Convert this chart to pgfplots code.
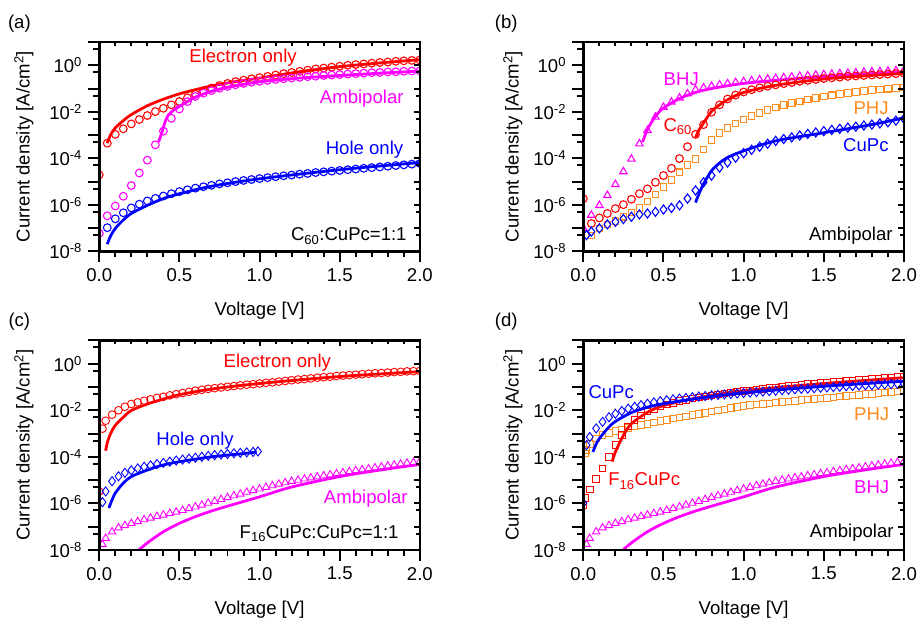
\documentclass[border=0pt]{standalone}
\usepackage{fontspec}
\setmainfont{Liberation Sans}
\usepackage{pgfplots}
\pgfplotsset{compat=1.18}

\definecolor{colR}{RGB}{255,0,0}
\definecolor{colM}{RGB}{255,0,255}
\definecolor{colB}{RGB}{0,0,255}
\definecolor{colO}{RGB}{255,140,30}

\pgfplotsset{
  panel/.style={scale only axis, width=323pt, height=211pt,
    xmin=0, xmax=2, ymin=-8, ymax=1,
    axis line style={line width=2.6pt}, clip marker paths=true,
    xtick={0,0.5,1,1.5,2}, minor x tick num=4,
    ytick={-8,-7,-6,-5,-4,-3,-2,-1,0,1},
    minor ytick={-7.301,-6.301,-5.301,-4.301,-3.301,-2.301,-1.301,-0.301,0.699},
    tick style={black, line width=2pt}},
  mainax/.style={panel, tick align=outside, xtick pos=left, ytick pos=left,
    major tick length=11pt, minor tick length=6pt,
    xticklabels={0.0,0.5,1.0,1.5,2.0},
    yticklabels={10\textsuperscript{-8},,10\textsuperscript{-6},,10\textsuperscript{-4},,10\textsuperscript{-2},,10\textsuperscript{0},},
    xlabel={Voltage [V]}, ylabel={Current density [A/cm\textsuperscript{2}]},
    xlabel style={at={(axis description cs:0.5,-0.284)}, anchor=center}},
  mirax/.style={panel, tick align=inside, xtick pos=right, ytick pos=right,
    major tick length=6pt, minor tick length=4pt,
    xticklabels={}, yticklabels={}},
  circ/.style={only marks, mark=o, mark size=3.9pt, mark options={line width=1.1pt}},
  tri/.style={only marks, mark=triangle, mark size=4.3pt, mark options={line width=1.1pt}},
  sq/.style={only marks, mark=square, mark size=3.3pt, mark options={line width=1.1pt}},
  dia/.style={only marks, mark=diamond, mark size=4.6pt, mark options={line width=1.1pt}},
  fit/.style={no marks, smooth, line width=2.8pt},
}

\begin{document}
\fontsize{18.7}{22}\selectfont
\begin{tikzpicture}
\path (0,0) rectangle (923pt,624pt);

\node at (19.5pt,600pt) {(a)};
\node at (510pt,600pt) {(b)};
\node at (19.5pt,299.8pt) {(c)};
\node at (510pt,299.8pt) {(d)};

% ---------------- (a)
\begin{axis}[mainax, at={(100pt,370.7pt)}, anchor=south west,
  ylabel style={at={(axis description cs:-0.235,0.5)}, anchor=center}]
\addplot[circ, colR] table {
0.00 -4.71
0.05 -3.35
0.10 -2.97
0.15 -2.73
0.20 -2.52
0.25 -2.33
0.30 -2.16
0.35 -1.99
0.40 -1.85
0.45 -1.70
0.50 -1.56
0.55 -1.40
0.60 -1.24
0.65 -1.10
0.70 -0.98
0.75 -0.87
0.80 -0.78
0.85 -0.70
0.90 -0.64
0.95 -0.58
1.00 -0.53
1.05 -0.48
1.10 -0.42
1.15 -0.36
1.20 -0.31
1.25 -0.26
1.30 -0.21
1.35 -0.16
1.40 -0.12
1.45 -0.08
1.50 -0.04
1.55 0.00
1.60 0.03
1.65 0.06
1.70 0.09
1.75 0.12
1.80 0.14
1.85 0.17
1.90 0.19
1.95 0.21
2.00 0.23
};
\addplot[fit, colR] table {
0.05 -3.35
0.07 -3.00
0.10 -2.69
0.15 -2.38
0.20 -2.12
0.30 -1.74
0.40 -1.46
0.50 -1.23
0.60 -1.05
0.70 -0.89
0.85 -0.70
1.00 -0.55
1.25 -0.28
1.50 -0.06
1.75 0.10
2.00 0.24
};
\addplot[circ, colM] table {
0.00 -7.22
0.05 -6.47
0.10 -6.05
0.15 -5.63
0.20 -5.17
0.25 -4.63
0.30 -4.08
0.35 -3.42
0.40 -2.83
0.45 -2.28
0.50 -1.88
0.55 -1.56
0.60 -1.34
0.65 -1.20
0.70 -1.09
0.75 -0.99
0.80 -0.91
0.85 -0.84
0.90 -0.78
0.95 -0.73
1.00 -0.69
1.05 -0.65
1.10 -0.61
1.15 -0.58
1.20 -0.55
1.25 -0.52
1.30 -0.49
1.35 -0.47
1.40 -0.44
1.45 -0.42
1.50 -0.40
1.55 -0.38
1.60 -0.36
1.65 -0.34
1.70 -0.32
1.75 -0.31
1.80 -0.29
1.85 -0.28
1.90 -0.26
1.95 -0.25
2.00 -0.24
};
\addplot[fit, colM] table {
0.37 -3.30
0.39 -2.90
0.41 -2.45
0.43 -2.15
0.46 -1.95
0.50 -1.77
0.60 -1.37
0.70 -1.12
0.80 -0.95
1.00 -0.71
1.25 -0.55
1.50 -0.44
1.75 -0.34
2.00 -0.25
};
\addplot[circ, colB] table {
0.05 -6.98
0.10 -6.60
0.15 -6.34
0.20 -6.13
0.25 -5.97
0.30 -5.83
0.35 -5.72
0.40 -5.62
0.45 -5.52
0.50 -5.43
0.55 -5.35
0.60 -5.28
0.65 -5.22
0.70 -5.16
0.75 -5.10
0.80 -5.05
0.85 -5.00
0.90 -4.95
0.95 -4.91
1.00 -4.87
1.05 -4.83
1.10 -4.79
1.15 -4.75
1.20 -4.72
1.25 -4.68
1.30 -4.65
1.35 -4.61
1.40 -4.58
1.45 -4.55
1.50 -4.52
1.55 -4.49
1.60 -4.46
1.65 -4.43
1.70 -4.40
1.75 -4.37
1.80 -4.34
1.85 -4.31
1.90 -4.28
1.95 -4.25
2.00 -4.22
};
\addplot[fit, colB] table {
0.05 -7.69
0.07 -7.35
0.10 -7.01
0.15 -6.65
0.20 -6.37
0.30 -6.02
0.40 -5.73
0.50 -5.52
0.70 -5.20
1.00 -4.88
1.50 -4.49
2.00 -4.18
};
\node[colR, anchor=base] at (axis cs:0.897,0.12) {Electron only};
\node[colM, anchor=base east] at (axis cs:1.938,-1.655) {Ambipolar};
\node[colB, anchor=base east] at (axis cs:1.936,-3.82) {Hole only};
\node[anchor=base east] at (axis cs:1.957,-7.55) {C\textsubscript{60}:CuPc=1:1};
\end{axis}
\begin{axis}[mirax, at={(100pt,370.7pt)}, anchor=south west]
\end{axis}

% ---------------- (b)
\begin{axis}[mainax, at={(587.7pt,370.7pt)}, anchor=south west,
  ylabel style={at={(axis description cs:-0.22,0.5)}, anchor=center}]
\addplot[tri, colM] table {
0.00 -7.00
0.05 -6.44
0.10 -6.02
0.15 -5.59
0.20 -5.12
0.25 -4.57
0.30 -4.03
0.35 -3.37
0.40 -2.80
0.45 -2.22
0.50 -1.80
0.55 -1.58
0.60 -1.40
0.65 -1.22
0.70 -1.05
0.75 -0.97
0.80 -0.90
0.85 -0.84
0.90 -0.79
0.95 -0.74
1.00 -0.70
1.05 -0.66
1.10 -0.62
1.15 -0.59
1.20 -0.56
1.25 -0.53
1.30 -0.50
1.35 -0.47
1.40 -0.45
1.45 -0.42
1.50 -0.40
1.55 -0.38
1.60 -0.36
1.65 -0.34
1.70 -0.32
1.75 -0.30
1.80 -0.28
1.85 -0.27
1.90 -0.25
1.95 -0.23
2.00 -0.22
};
\addplot[fit, colM] table {
0.37 -3.30
0.40 -2.76
0.45 -2.19
0.50 -1.84
0.60 -1.43
0.70 -1.17
0.80 -1.00
1.00 -0.78
1.25 -0.62
1.50 -0.49
1.75 -0.38
2.00 -0.28
};
\addplot[circ, colR] table {
0.00 -5.73
0.05 -6.80
0.10 -6.56
0.15 -6.37
0.20 -6.16
0.25 -5.99
0.30 -5.76
0.35 -5.52
0.40 -5.31
0.45 -5.03
0.50 -4.74
0.55 -4.43
0.60 -4.01
0.65 -3.50
0.70 -2.97
0.75 -2.55
0.80 -2.02
0.85 -1.70
0.90 -1.45
0.95 -1.28
1.00 -1.15
1.05 -1.05
1.10 -0.97
1.15 -0.90
1.20 -0.84
1.25 -0.79
1.30 -0.74
1.35 -0.69
1.40 -0.65
1.45 -0.61
1.50 -0.57
1.55 -0.54
1.60 -0.51
1.65 -0.48
1.70 -0.46
1.75 -0.44
1.80 -0.42
1.85 -0.40
1.90 -0.38
1.95 -0.36
2.00 -0.34
};
\addplot[fit, colR] table {
0.70 -3.11
0.72 -2.80
0.75 -2.48
0.80 -1.98
0.85 -1.70
0.90 -1.48
1.00 -1.17
1.20 -0.86
1.50 -0.59
1.75 -0.46
2.00 -0.35
};
\addplot[sq, colO] table {
0.05 -7.32
0.10 -7.01
0.15 -6.84
0.20 -6.70
0.25 -6.51
0.30 -6.33
0.35 -6.13
0.40 -5.85
0.45 -5.56
0.50 -5.24
0.55 -4.93
0.60 -4.60
0.65 -4.29
0.70 -4.03
0.75 -3.62
0.80 -3.22
0.85 -2.92
0.90 -2.69
0.95 -2.50
1.00 -2.33
1.05 -2.18
1.10 -2.05
1.15 -1.92
1.20 -1.81
1.25 -1.71
1.30 -1.62
1.35 -1.55
1.40 -1.47
1.45 -1.41
1.50 -1.35
1.55 -1.29
1.60 -1.24
1.65 -1.19
1.70 -1.15
1.75 -1.11
1.80 -1.07
1.85 -1.04
1.90 -1.01
1.95 -0.98
2.00 -0.95
};
\addplot[dia, colB] table {
0.02 -7.30
0.05 -7.15
0.10 -7.01
0.15 -6.84
0.20 -6.73
0.25 -6.61
0.30 -6.51
0.35 -6.41
0.40 -6.37
0.45 -6.30
0.50 -6.20
0.55 -6.13
0.60 -6.02
0.65 -5.73
0.70 -5.38
0.75 -5.03
0.80 -4.74
0.85 -4.40
0.90 -4.18
0.95 -3.97
1.00 -3.78
1.05 -3.63
1.10 -3.50
1.15 -3.37
1.20 -3.25
1.25 -3.17
1.30 -3.10
1.35 -3.02
1.40 -2.95
1.45 -2.89
1.50 -2.83
1.55 -2.78
1.60 -2.73
1.65 -2.68
1.70 -2.64
1.75 -2.59
1.80 -2.55
1.85 -2.50
1.90 -2.45
1.95 -2.38
2.00 -2.30
};
\addplot[fit, colB] table {
0.70 -5.90
0.72 -5.55
0.75 -5.10
0.80 -4.53
0.85 -4.20
0.90 -3.96
1.00 -3.68
1.20 -3.25
1.50 -2.90
1.80 -2.55
2.00 -2.26
};
\node[colM, anchor=base] at (axis cs:0.611,-0.85) {BHJ};
\node[colR, anchor=base west, inner sep=0pt] at (axis cs:0.499,-2.83) {C\textsubscript{60}};
\node[colO, anchor=base east] at (axis cs:1.944,-2.12) {PHJ};
\node[colB, anchor=base east] at (axis cs:1.944,-3.69) {CuPc};
\node[anchor=base east] at (axis cs:1.969,-7.55) {Ambipolar};
\end{axis}
\begin{axis}[mirax, at={(587.7pt,370.7pt)}, anchor=south west]
\end{axis}

% ---------------- (c)
\begin{axis}[mainax, at={(100pt,70pt)}, anchor=south west,
  ylabel style={at={(axis description cs:-0.235,0.5)}, anchor=center}]
\addplot[circ, colR, mark options={line width=0.9pt}] table {
0.00 -5.49
0.02 -2.79
0.04 -2.45
0.08 -2.19
0.12 -2.00
0.16 -1.85
0.20 -1.73
0.24 -1.66
0.28 -1.59
0.32 -1.53
0.36 -1.47
0.40 -1.42
0.44 -1.36
0.48 -1.31
0.52 -1.26
0.56 -1.21
0.60 -1.16
0.64 -1.12
0.68 -1.08
0.72 -1.05
0.76 -1.02
0.80 -0.99
0.84 -0.96
0.88 -0.93
0.92 -0.90
0.96 -0.88
1.00 -0.85
1.04 -0.82
1.08 -0.80
1.12 -0.77
1.16 -0.74
1.20 -0.71
1.24 -0.68
1.28 -0.66
1.32 -0.63
1.36 -0.60
1.40 -0.58
1.44 -0.56
1.48 -0.53
1.52 -0.51
1.56 -0.49
1.60 -0.47
1.64 -0.45
1.68 -0.43
1.72 -0.41
1.76 -0.40
1.80 -0.38
1.84 -0.36
1.88 -0.35
1.92 -0.33
1.96 -0.32
2.00 -0.31
};
\addplot[fit, colR] table {
0.04 -3.74
0.05 -3.40
0.07 -3.01
0.10 -2.65
0.15 -2.30
0.20 -2.01
0.30 -1.73
0.40 -1.52
0.50 -1.33
0.70 -1.09
1.00 -0.85
1.50 -0.55
2.00 -0.34
};
\addplot[dia, colB, mark options={line width=0.9pt}] table {
0.02 -5.95
0.04 -5.49
0.08 -5.05
0.12 -4.84
0.16 -4.69
0.20 -4.58
0.24 -4.50
0.28 -4.43
0.32 -4.37
0.36 -4.31
0.40 -4.26
0.44 -4.21
0.48 -4.16
0.52 -4.12
0.56 -4.08
0.60 -4.04
0.64 -4.00
0.68 -3.96
0.72 -3.93
0.76 -3.90
0.80 -3.88
0.84 -3.85
0.88 -3.83
0.92 -3.81
0.96 -3.79
0.99 -3.77
};
\addplot[fit, colB] table {
0.06 -6.20
0.08 -5.85
0.10 -5.56
0.15 -5.13
0.20 -4.85
0.30 -4.57
0.40 -4.35
0.50 -4.21
0.70 -4.00
0.90 -3.86
0.98 -3.80
};
\addplot[tri, colM, mark options={line width=0.9pt}] table {
0.02 -7.76
0.04 -7.50
0.08 -7.22
0.12 -7.05
0.16 -6.95
0.20 -6.86
0.24 -6.78
0.28 -6.70
0.32 -6.63
0.36 -6.56
0.40 -6.50
0.44 -6.43
0.48 -6.37
0.52 -6.30
0.56 -6.22
0.60 -6.15
0.64 -6.07
0.68 -5.99
0.72 -5.91
0.76 -5.83
0.80 -5.75
0.84 -5.67
0.88 -5.60
0.92 -5.52
0.96 -5.45
1.00 -5.38
1.04 -5.31
1.08 -5.24
1.12 -5.17
1.16 -5.11
1.20 -5.05
1.24 -5.00
1.28 -4.95
1.32 -4.90
1.36 -4.86
1.40 -4.81
1.44 -4.77
1.48 -4.72
1.52 -4.68
1.56 -4.63
1.60 -4.59
1.64 -4.55
1.68 -4.51
1.72 -4.47
1.76 -4.43
1.80 -4.39
1.84 -4.35
1.88 -4.31
1.92 -4.27
1.96 -4.24
2.00 -4.20
};
\addplot[fit, colM] table {
0.24 -8.05
0.30 -7.70
0.40 -7.22
0.50 -6.86
0.60 -6.57
0.70 -6.33
0.80 -6.12
1.00 -5.72
1.20 -5.30
1.50 -4.85
1.80 -4.52
2.00 -4.33
};
\node[colR, anchor=base] at (axis cs:1.111,-0.17) {Electron only};
\node[colB, anchor=base] at (axis cs:0.598,-3.50) {Hole only};
\node[colM, anchor=base east] at (axis cs:1.963,-5.99) {Ambipolar};
\node[anchor=base east] at (axis cs:1.907,-7.49) {F\textsubscript{16}CuPc:CuPc=1:1};
\end{axis}
\begin{axis}[mirax, at={(100pt,70pt)}, anchor=south west]
\end{axis}

% ---------------- (d)
\begin{axis}[mainax, at={(587.7pt,70pt)}, anchor=south west,
  ylabel style={at={(axis description cs:-0.22,0.5)}, anchor=center}]
\addplot[tri, colM, mark options={line width=0.9pt}] table {
0.02 -7.76
0.04 -7.50
0.08 -7.22
0.12 -7.05
0.16 -6.95
0.20 -6.86
0.24 -6.78
0.28 -6.70
0.32 -6.63
0.36 -6.56
0.40 -6.50
0.44 -6.43
0.48 -6.37
0.52 -6.30
0.56 -6.22
0.60 -6.15
0.64 -6.07
0.68 -5.99
0.72 -5.91
0.76 -5.83
0.80 -5.75
0.84 -5.67
0.88 -5.60
0.92 -5.52
0.96 -5.45
1.00 -5.38
1.04 -5.31
1.08 -5.24
1.12 -5.17
1.16 -5.11
1.20 -5.05
1.24 -5.00
1.28 -4.95
1.32 -4.90
1.36 -4.86
1.40 -4.81
1.44 -4.77
1.48 -4.72
1.52 -4.68
1.56 -4.63
1.60 -4.59
1.64 -4.55
1.68 -4.51
1.72 -4.47
1.76 -4.43
1.80 -4.39
1.84 -4.35
1.88 -4.31
1.92 -4.27
1.96 -4.24
2.00 -4.20
};
\addplot[fit, colM] table {
0.24 -8.05
0.30 -7.70
0.40 -7.22
0.50 -6.86
0.60 -6.57
0.70 -6.33
0.80 -6.12
1.00 -5.72
1.20 -5.30
1.50 -4.85
1.80 -4.52
2.00 -4.33
};
\addplot[sq, colO, mark options={line width=0.9pt}] table {
0.01 -3.86
0.02 -3.70
0.04 -3.45
0.08 -3.22
0.12 -3.07
0.16 -2.97
0.20 -2.89
0.24 -2.82
0.28 -2.76
0.32 -2.70
0.36 -2.64
0.40 -2.58
0.44 -2.53
0.48 -2.47
0.52 -2.41
0.56 -2.36
0.60 -2.31
0.64 -2.26
0.68 -2.21
0.72 -2.16
0.76 -2.11
0.80 -2.06
0.84 -2.01
0.88 -1.96
0.92 -1.91
0.96 -1.86
1.00 -1.81
1.04 -1.78
1.08 -1.75
1.12 -1.72
1.16 -1.70
1.20 -1.67
1.24 -1.64
1.28 -1.62
1.32 -1.59
1.36 -1.56
1.40 -1.54
1.44 -1.51
1.48 -1.49
1.52 -1.46
1.56 -1.44
1.60 -1.41
1.64 -1.39
1.68 -1.36
1.72 -1.34
1.76 -1.31
1.80 -1.29
1.84 -1.26
1.88 -1.24
1.92 -1.21
1.96 -1.19
2.00 -1.16
};
\addplot[sq, colR, mark options={line width=0.9pt}] table {
0.00 -6.10
0.01 -5.77
0.04 -5.40
0.08 -4.95
0.12 -4.50
0.16 -4.00
0.20 -3.50
0.24 -3.05
0.28 -2.70
0.32 -2.42
0.36 -2.22
0.40 -2.06
0.44 -1.94
0.48 -1.84
0.52 -1.75
0.56 -1.68
0.60 -1.61
0.64 -1.55
0.68 -1.50
0.72 -1.45
0.76 -1.40
0.80 -1.36
0.84 -1.32
0.88 -1.28
0.92 -1.24
0.96 -1.20
1.00 -1.17
1.04 -1.14
1.08 -1.11
1.12 -1.08
1.16 -1.05
1.20 -1.02
1.24 -0.99
1.28 -0.96
1.32 -0.94
1.36 -0.91
1.40 -0.88
1.44 -0.86
1.48 -0.83
1.52 -0.81
1.56 -0.79
1.60 -0.76
1.64 -0.74
1.68 -0.72
1.72 -0.70
1.76 -0.68
1.80 -0.66
1.84 -0.64
1.88 -0.62
1.92 -0.60
1.96 -0.58
2.00 -0.56
};
\addplot[fit, colR] table {
0.18 -4.21
0.20 -3.79
0.25 -3.08
0.30 -2.58
0.40 -2.09
0.50 -1.80
0.70 -1.48
1.00 -1.16
1.50 -0.85
2.00 -0.60
};
\addplot[dia, colB, mark options={line width=0.9pt}] table {
0.00 -5.99
0.02 -3.50
0.04 -3.15
0.08 -2.78
0.12 -2.50
0.16 -2.30
0.20 -2.15
0.24 -2.03
0.28 -1.93
0.32 -1.85
0.36 -1.78
0.40 -1.72
0.44 -1.66
0.48 -1.61
0.52 -1.57
0.56 -1.53
0.60 -1.50
0.64 -1.47
0.68 -1.44
0.72 -1.41
0.76 -1.39
0.80 -1.36
0.84 -1.34
0.88 -1.32
0.92 -1.30
0.96 -1.28
1.00 -1.26
1.04 -1.24
1.08 -1.22
1.12 -1.20
1.16 -1.18
1.20 -1.16
1.24 -1.14
1.28 -1.12
1.32 -1.10
1.36 -1.08
1.40 -1.07
1.44 -1.05
1.48 -1.03
1.52 -1.02
1.56 -1.00
1.60 -0.99
1.64 -0.97
1.68 -0.96
1.72 -0.94
1.76 -0.93
1.80 -0.92
1.84 -0.90
1.88 -0.89
1.92 -0.88
1.96 -0.87
2.00 -0.86
};
\addplot[fit, colB] table {
0.06 -3.79
0.08 -3.45
0.10 -3.22
0.15 -2.79
0.20 -2.48
0.30 -2.10
0.40 -1.87
0.50 -1.72
0.70 -1.50
1.00 -1.25
1.50 -0.97
2.00 -0.75
};
\node[colB, anchor=base] at (axis cs:0.174,-1.48) {CuPc};
\node[colO, anchor=base east] at (axis cs:1.948,-2.44) {PHJ};
\node[colR, anchor=base west, inner sep=0pt] at (axis cs:0.155,-5.25) {F\textsubscript{16}CuPc};
\node[colM, anchor=base east] at (axis cs:1.948,-5.56) {BHJ};
\node[anchor=base east] at (axis cs:1.975,-7.48) {Ambipolar};
\end{axis}
\begin{axis}[mirax, at={(587.7pt,70pt)}, anchor=south west]
\end{axis}
\end{tikzpicture}
\end{document}
